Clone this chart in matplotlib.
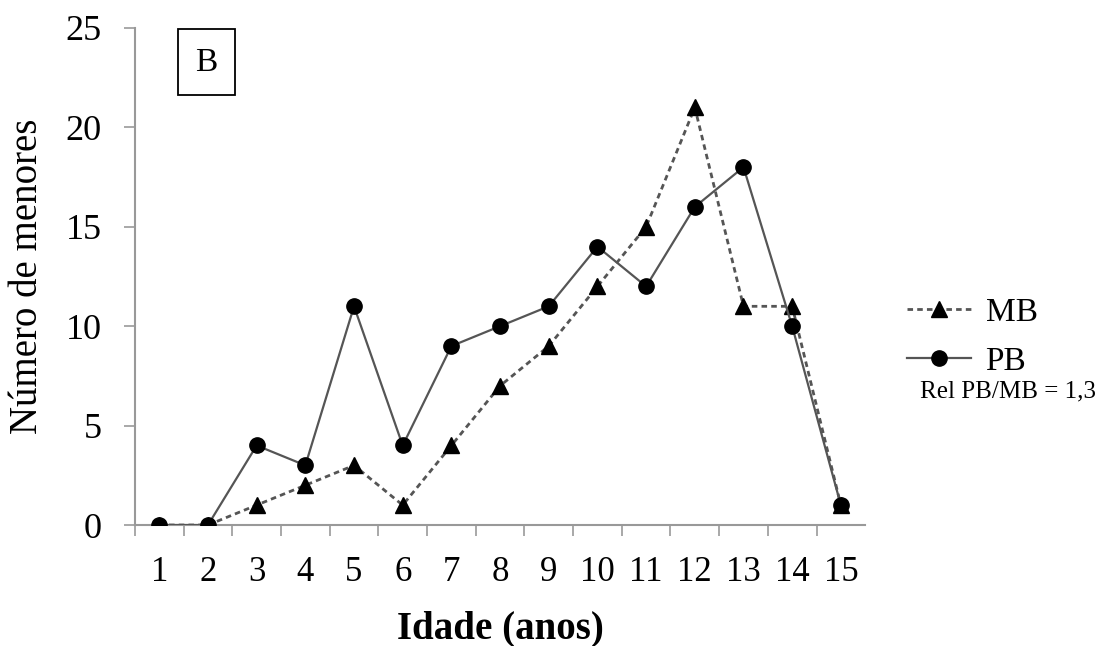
import matplotlib.pyplot as plt
from matplotlib.lines import Line2D
from matplotlib.patches import Rectangle

plt.rcParams['font.family'] = ['Liberation Serif', 'DejaVu Serif']

# Data
idade = list(range(1, 16))
mb = [0, 0, 1, 2, 3, 1, 4, 7, 9, 12, 15, 21, 11, 11, 1]
pb = [0, 0, 4, 3, 11, 4, 9, 10, 11, 14, 12, 16, 18, 10, 1]

fig = plt.figure(figsize=(11.2, 6.46), dpi=100)
ax = fig.add_axes([0.1205, 0.1873, 0.652, 0.7694])

mb_style = dict(linestyle=(0, (2, 1.5)), color='#555555', linewidth=2, marker='^',
                markersize=12, markerfacecolor='black', markeredgecolor='black')
pb_style = dict(linestyle='-', color='#555555', linewidth=1.6, marker='o',
                markersize=11, markerfacecolor='black', markeredgecolor='black')

ax.plot(idade, mb, label='MB', zorder=3, **mb_style)
ax.plot(idade, pb, label='PB', zorder=3, **pb_style)

ax.set_xlim(0.5, 15.5)
ax.set_ylim(0, 25)
ax.set_yticks([0, 5, 10, 15, 20, 25])
ax.set_xticks(idade)
ax.set_xticks([i + 0.5 for i in range(0, 15)], minor=True)
ax.tick_params(axis='x', which='major', length=0, labelsize=25, pad=22)
ax.tick_params(axis='x', which='minor', length=8, direction='out', color='#999999', width=1.2)
ax.tick_params(axis='y', length=8, direction='out', color='#999999', width=1.2,
               labelsize=26, pad=16)

for s in ['top', 'right']:
    ax.spines[s].set_visible(False)
for s in ['left', 'bottom']:
    ax.spines[s].set_color('#999999')
    ax.spines[s].set_linewidth(1.5)

ax.set_ylabel('Número de menores', fontsize=28, labelpad=14)
ax.set_xlabel('Idade (anos)', fontsize=28, fontweight='bold', labelpad=16)

# Panel label box
ax.add_patch(Rectangle((0.059, 0.865), 0.078, 0.133, transform=ax.transAxes,
                       facecolor='white', edgecolor='black', linewidth=1.3,
                       clip_on=False, zorder=4))
ax.text(0.098, 0.931, 'B', transform=ax.transAxes, fontsize=24,
        ha='center', va='center', zorder=5)

# Legend
handles = [Line2D([], [], **mb_style), Line2D([], [], **pb_style)]
fig.legend(handles, ['MB', 'PB'], loc='center left', bbox_to_anchor=(0.81, 0.478),
           frameon=False, fontsize=24, handlelength=1.9, handletextpad=0.45,
           labelspacing=0.55, borderpad=0, borderaxespad=0)
fig.text(0.821, 0.394, 'Rel PB/MB = 1,3', fontsize=18, ha='left', va='center')

plt.savefig('out.png', dpi=100)
